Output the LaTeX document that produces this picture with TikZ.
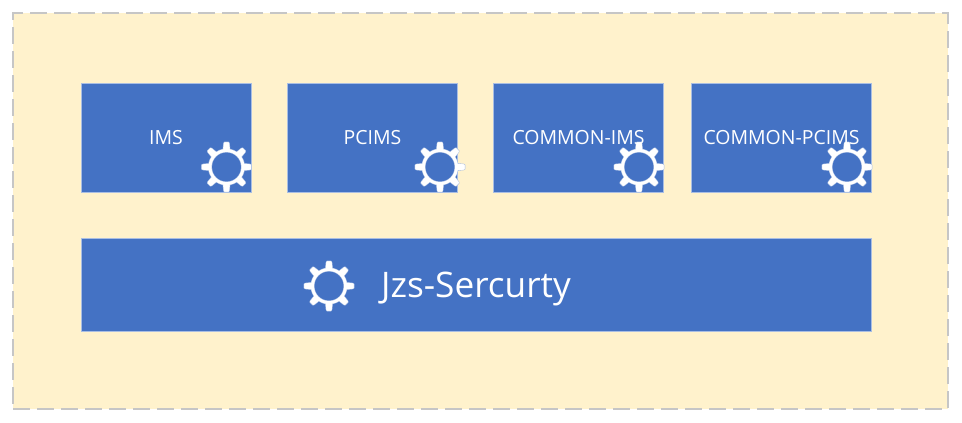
\documentclass[tikz,border=0pt]{standalone}
\usepackage{fontspec}
\setmainfont{Open Sans}
\definecolor{panelfill}{HTML}{FFF2CC}
\definecolor{paneldash}{HTML}{C6C6C6}
\definecolor{boxblue}{HTML}{4472C4}
\definecolor{boxedge}{HTML}{A9BEE3}
\tikzset{
  panel/.style={draw=paneldash,fill=panelfill,line width=1pt,dash pattern=on 12.75pt off 5.25pt,minimum width=701.25pt,minimum height=297pt,inner sep=0pt},
  modbox/.style={draw=boxedge,fill=boxblue,line width=0.5pt,inner sep=0pt},
  smalltext/.style={text=white,font=\fontsize{14.6}{17}\selectfont},
  bigtext/.style={text=white,font=\fontsize{26.4}{30}\selectfont},
  gearedge/.style={draw=boxedge,fill=white,line width=0.45pt,line join=round},
  pics/gear/.style={code={
    \foreach \a in {0,45,...,315}{
      \path[gearedge,rotate=\a] (15,-3.8) -- (23.8,-2.9) -- (25,-2.1) -- (25,2.1) -- (23.8,2.9) -- (15,3.8) -- cycle;
    }
    \fill[boxedge] (0,0) circle[radius=13.9pt];
    \fill[white] (0,0) circle[radius=13.5pt];
    \foreach \a in {0,45,...,315}{
      \fill[white,rotate=\a] (15,-3.5) -- (23.8,-2.6) -- (24.7,-1.9) -- (24.7,1.9) -- (23.8,2.6) -- (15,3.5) -- cycle;
    }
    \fill[boxedge] (0,0) circle[radius=11.2pt];
    \fill[boxblue] (0,0) circle[radius=10.8pt];
  }}
}
\begin{document}
\begin{tikzpicture}[x=0.75pt,y=-0.75pt]
\useasboundingbox (0,0) rectangle (962,422);
\node[panel] (bg) at (480.5,211) {};
\node[modbox,minimum width=127.5pt,minimum height=81.75pt] (ims) at (166,137.5) {};
\node[modbox,minimum width=127.5pt,minimum height=81.75pt] (pcims) at (372.5,137.5) {};
\node[modbox,minimum width=127.5pt,minimum height=81.75pt] (cims) at (578.5,137.5) {};
\node[modbox,minimum width=135pt,minimum height=81.75pt] (cpcims) at (781.5,137.5) {};
\node[modbox,minimum width=592.5pt,minimum height=69.75pt] (jzs) at (476,284.75) {};
\pic at (226.5,167) {gear=1};
\pic at (440,167) {gear=1};
\pic at (639,167) {gear=1};
\pic at (847,167) {gear=1};
\pic at (329,286) {gear=1};
\node[smalltext] (t1) at (ims.center) {IMS};
\node[smalltext] (t2) at (pcims.center) {PCIMS};
\node[smalltext] (t3) at (cims.center) {COMMON-IMS};
\node[smalltext] (t4) at (cpcims.center) {COMMON-PCIMS};
\node[bigtext,yshift=-3pt] (t5) at (jzs.center) {Jzs-Sercurty};
\end{tikzpicture}
\end{document}
